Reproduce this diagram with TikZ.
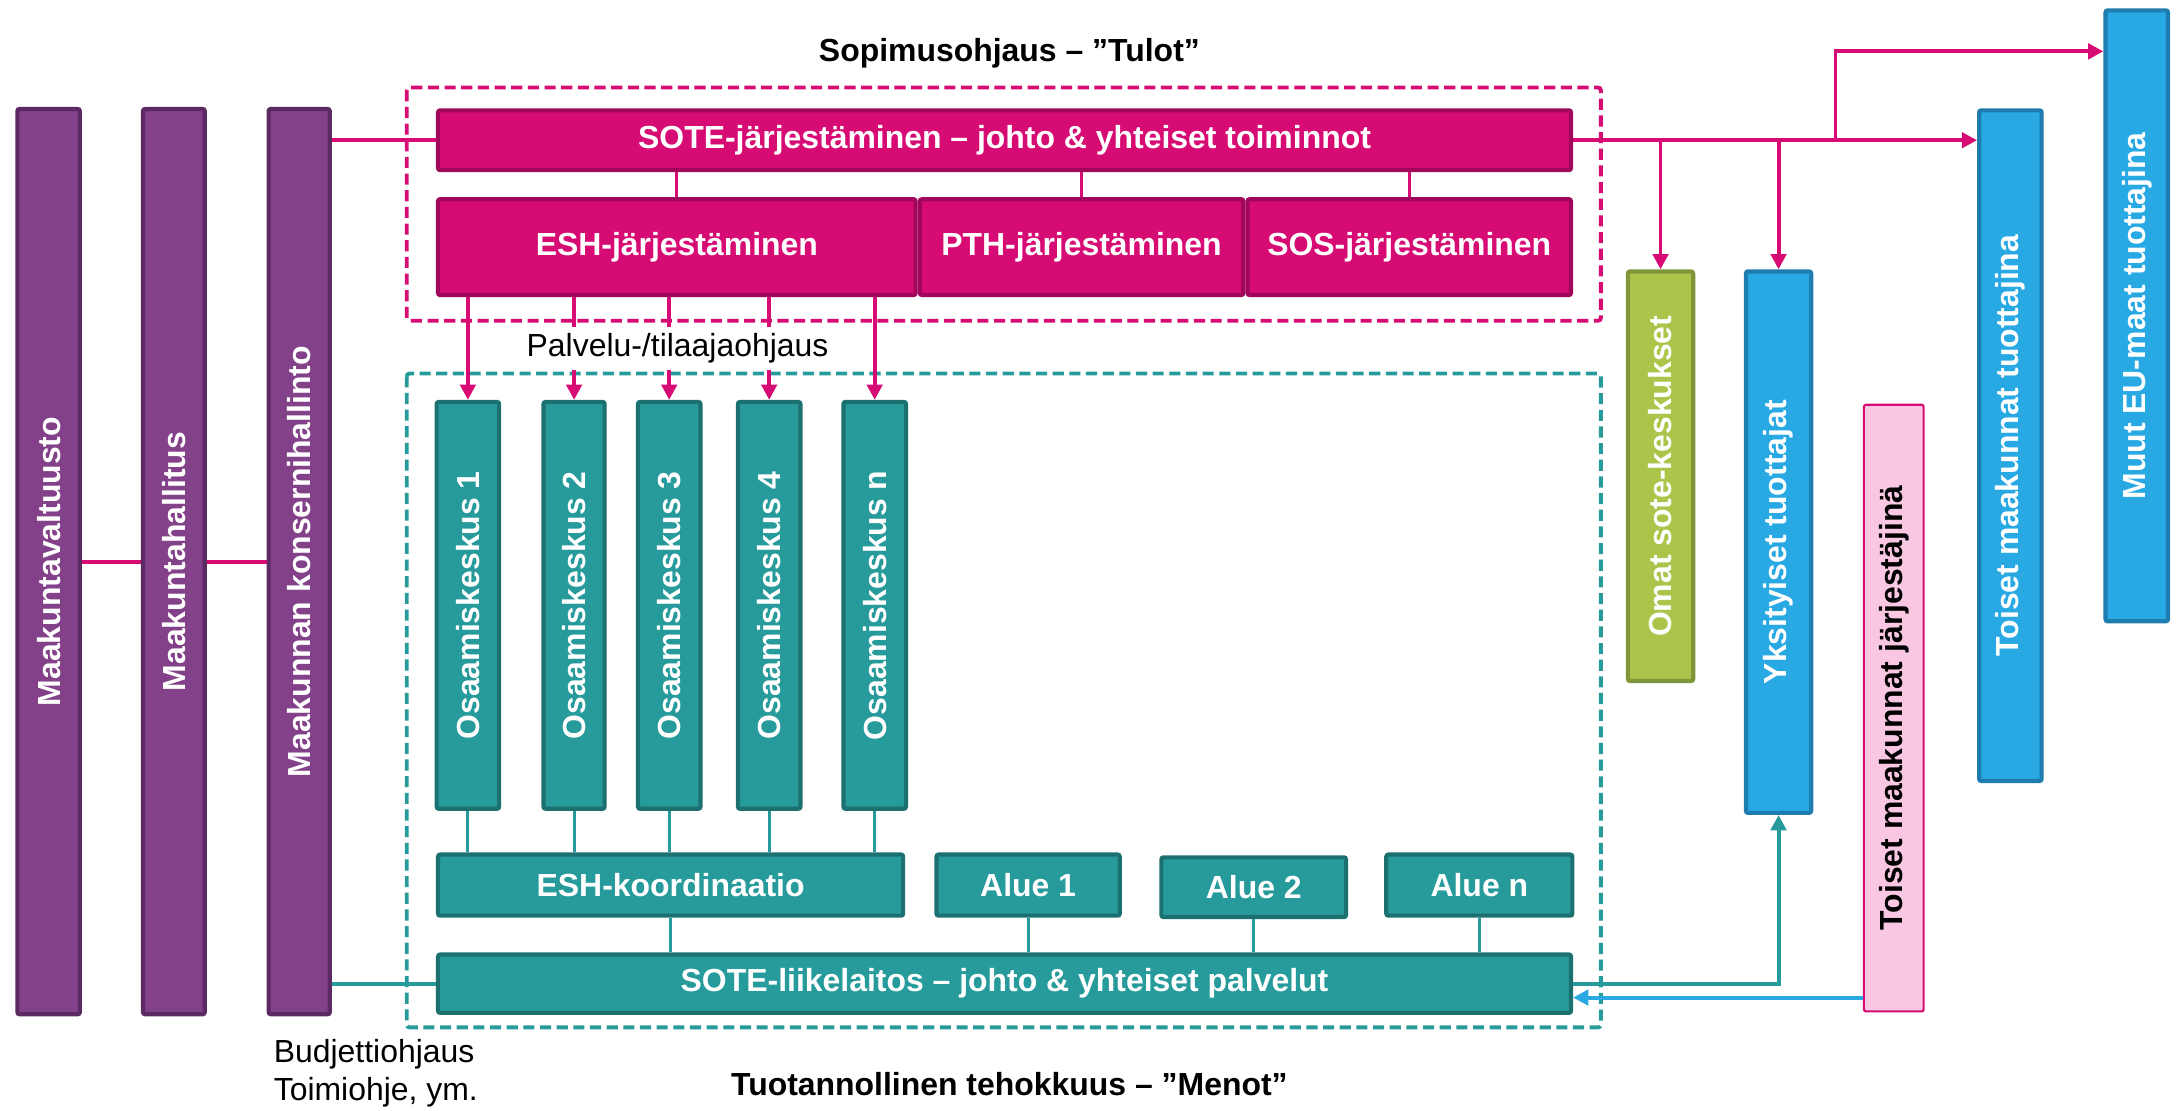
\documentclass[tikz,border=0pt]{standalone}
\usepackage{fontspec}
\setmainfont{Liberation Sans}
\usetikzlibrary{arrows.meta}
\definecolor{purF}{HTML}{834189}
\definecolor{purB}{HTML}{5C2A62}
\definecolor{magF}{HTML}{D60C74}
\definecolor{magB}{HTML}{A0065A}
\definecolor{tealF}{HTML}{279B9B}
\definecolor{tealB}{HTML}{1D7070}
\definecolor{grnF}{HTML}{ABC54A}
\definecolor{grnB}{HTML}{80963A}
\definecolor{bluF}{HTML}{28A9E4}
\definecolor{bluB}{HTML}{1F7CAE}
\definecolor{pnkF}{HTML}{F9C7E2}
\definecolor{lblu}{HTML}{2AA8E2}
\newcommand{\mkbox}[7]{%
  \node[#1, minimum width={(#5-#3-3)*1pt}, minimum height={(#6-#4-3)*1pt}] (#2) at ({(#3+#5)/2},{(#4+#6)/2}) {#7};}
\newcommand{\rot}[1]{\rotatebox{90}{#1}}
\begin{document}
\begin{tikzpicture}[x=1pt,y=-1pt,
  txt/.style={font=\fontsize{23}{28}\selectfont, inner sep=0pt},
  btxt/.style={font=\bfseries\fontsize{23}{28}\selectfont, inner sep=0pt},
  box/.style={draw, line width=3pt, rounded corners=1.5pt, inner sep=0pt, text=white, font=\bfseries\fontsize{23}{28}\selectfont},
  purbox/.style={box, fill=purF, draw=purB},
  magbox/.style={box, fill=magF, draw=magB},
  tealbox/.style={box, fill=tealF, draw=tealB},
  grnbox/.style={box, fill=grnF, draw=grnB},
  blubox/.style={box, fill=bluF, draw=bluB},
  pnkbox/.style={box, fill=pnkF, draw=magF, line width=1.5pt, text=black},
  magline/.style={draw=magF, line width=2.8pt},
  tealline/.style={draw=tealF, line width=2.8pt},
  bluline/.style={draw=lblu, line width=2.8pt},
  stub/.style={line width=2.3pt},
  arr/.style={-{Triangle[width=11pt,length=11pt]}},
  frame/.style={line width=2.8pt, dash pattern=on 8pt off 4pt, rounded corners=2pt}
]
\useasboundingbox (0,0) rectangle (1568,800);

% dashed frames
\draw[frame, draw=magF] (293,63) rectangle (1153,231);
\draw[frame, draw=tealF] (293,269) rectangle (1153,740);

% boxes
\mkbox{purbox}{mv}{11}{77}{59}{732}{\rot{Maakuntavaltuusto}}
\mkbox{purbox}{mh}{101.5}{77}{149}{732}{\rot{Maakuntahallitus}}
\mkbox{purbox}{kh}{192}{77}{239}{732}{\rot{Maakunnan konsernihallinto}}

\mkbox{magbox}{sote}{314}{78}{1133}{124}{SOTE-järjestäminen – johto \& yhteiset toiminnot}
\mkbox{magbox}{esh}{314}{142}{661}{214}{ESH-järjestäminen}
\mkbox{magbox}{pth}{661}{142}{897}{214}{PTH-järjestäminen}
\mkbox{magbox}{sos}{897}{142}{1133}{214}{SOS-järjestäminen}

\mkbox{tealbox}{ok1}{313}{288}{361}{584}{\rot{Osaamiskeskus 1}}
\mkbox{tealbox}{ok2}{390}{288}{437}{584}{\rot{Osaamiskeskus 2}}
\mkbox{tealbox}{ok3}{458}{288}{506}{584}{\rot{Osaamiskeskus 3}}
\mkbox{tealbox}{ok4}{530}{288}{578}{584}{\rot{Osaamiskeskus 4}}
\mkbox{tealbox}{okn}{606}{288}{654}{584}{\rot{Osaamiskeskus n}}

\mkbox{tealbox}{koord}{314}{614}{652}{661}{ESH-koordinaatio}
\mkbox{tealbox}{al1}{673}{614}{808}{661}{Alue 1}
\mkbox{tealbox}{al2}{835}{616}{971}{662}{Alue 2}
\mkbox{tealbox}{aln}{997}{614}{1134}{661}{Alue n}
\mkbox{tealbox}{liike}{314}{686}{1133}{731}{SOTE-liikelaitos – johto \& yhteiset palvelut}

\mkbox{grnbox}{omat}{1171}{194}{1221}{492}{\rot{Omat sote-keskukset}}
\mkbox{blubox}{yks}{1256}{194}{1306}{587}{\rot{Yksityiset tuottajat}}
\mkbox{pnkbox}{tjarj}{1341}{290}{1387}{730}{\rot{Toiset maakunnat järjestäjinä}}
\mkbox{blubox}{ttuot}{1424}{78}{1472}{564}{\rot{Toiset maakunnat tuottajina}}
\mkbox{blubox}{muut}{1515}{6}{1563}{449}{\rot{Muut EU-maat tuottajina}}

% connectors (left)
\draw[magline] (mv.east) -- (mh.west);
\draw[magline] (mh.east) -- (kh.west);
\draw[magline] (kh.east |- sote.west) -- (sote.west);
\draw[tealline] (kh.east |- liike.west) -- (liike.west);

% SOTE to rows
\draw[magline, stub] (sote.south -| esh.north) -- (esh.north);
\draw[magline, stub] (sote.south -| pth.north) -- (pth.north);
\draw[magline, stub] (sote.south -| sos.north) -- (sos.north);

% ESH to osaamiskeskus
\foreach \k in {ok1,ok2,ok3,ok4,okn}{
  \draw[magline, arr] (esh.south -| \k.north) -- (\k.north);
  \draw[tealline, stub] (\k.south) -- (koord.north -| \k.south);
}
\node[txt, fill=white, inner xsep=3pt, minimum height=31pt] (pal) at (488,251) {Palvelu-/tilaajaohjaus};

% rows to liikelaitos
\foreach \k in {koord,al1,al2,aln}{
  \draw[tealline, stub] (\k.south) -- (liike.north -| \k.south);
}

% right side
\coordinate (br) at (1322,37);
\draw[magline, arr] (sote.east) -- (ttuot.west |- sote.east);
\draw[magline, arr] (sote.east -| br) -- (br) -- (muut.west |- br);
\draw[magline, arr] (sote.east -| omat.north) -- (omat.north);
\draw[magline, arr] (sote.east -| yks.north) -- (yks.north);
\draw[tealline, arr] (liike.east) -- (yks.south |- liike.east) -- (yks.south);
\coordinate (lb) at (1240,718.5);
\draw[bluline, arr] (tjarj.west |- lb) -- (liike.east |- lb);

% texts
\node[btxt] (title) at (727,38) {Sopimusohjaus – ”Tulot”};
\node[btxt] (menot) at (727,781) {Tuotannollinen tehokkuus – ”Menot”};
\node[txt, anchor=west, align=left] (budj) at (197,773) {Budjettiohjaus\\Toimiohje, ym.};
\end{tikzpicture}
\end{document}
